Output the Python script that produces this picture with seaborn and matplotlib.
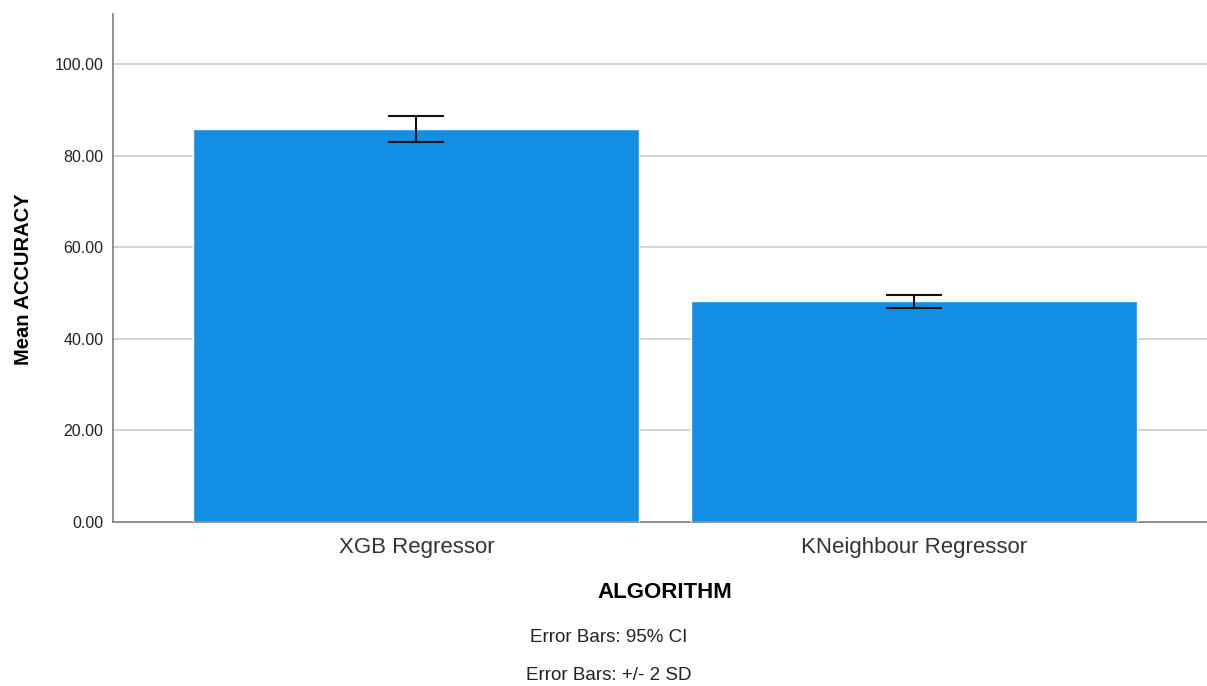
import matplotlib
matplotlib.use("Agg")
import matplotlib.pyplot as plt
import seaborn as sns
import pandas as pd
import numpy as np

algorithms = ["XGB Regressor", "KNeighbour Regressor"]
mean_accuracy = [85.8, 48.2]
err_low = [82.9, 46.6]
err_high = [88.6, 49.5]
y_ticks = [0, 20, 40, 60, 80, 100]
footnotes = ["Error Bars: 95% CI", "Error Bars: +/- 2 SD"]

sns.set_theme(style="white")
plt.rcParams['font.family'] = ['Liberation Sans', 'DejaVu Sans']

df = pd.DataFrame({"ALGORITHM": algorithms, "ACCURACY": mean_accuracy})

fig = plt.figure(figsize=(12.07, 6.86), dpi=100)
ax = fig.add_axes([113/1207, 1 - 521.5/686, 1 - 113/1207, (521.5 - 14)/686])

sns.barplot(data=df, x="ALGORITHM", y="ACCURACY", color="#128fe4",
            saturation=1, width=0.897, errorbar=None, ax=ax, zorder=3)

means = np.array(mean_accuracy)
yerr = np.vstack([means - np.array(err_low), np.array(err_high) - means])
ax.errorbar(range(len(algorithms)), means, yerr=yerr, fmt="none",
            ecolor="#111111", elinewidth=1.5, capsize=20, capthick=1.5, zorder=4)

ax.set_xlim(-0.61, 1.59)
ax.set_ylim(0, 111)
ax.set_yticks(y_ticks)
ax.set_yticklabels([f"{v:.2f}" for v in y_ticks], fontsize=11.5, color="#222222")
ax.tick_params(axis="x", labelsize=16, labelcolor="#333333", pad=11, length=0)
ax.tick_params(axis="y", length=0, pad=7)
ax.yaxis.grid(True, color="#cccccc", linewidth=1.2, zorder=0)
ax.set_axisbelow(True)

for s in ["top", "right"]:
    ax.spines[s].set_visible(False)
for s in ["left", "bottom"]:
    ax.spines[s].set_color("#888888")
    ax.spines[s].set_linewidth(1.3)

ax.set_xlabel("ALGORITHM", fontsize=16, fontweight="bold", color="black")
ax.set_ylabel("Mean ACCURACY", fontsize=14.5, fontweight="bold", color="black")
ax.xaxis.set_label_coords((665 - 113) / (1207 - 113), -(592 - 521.5) / 507.5)
ax.yaxis.set_label_coords(-(113 - 24) / (1207 - 113), (521.5 - 279) / 507.5)
ax.xaxis.label.set_va("center")
ax.yaxis.label.set_va("center")

fig.text(609 / 1207, 1 - 637 / 686, footnotes[0], ha="center", va="center", fontsize=13.5, color="#222222")
fig.text(609 / 1207, 1 - 676 / 686, footnotes[1], ha="center", va="center", fontsize=13.5, color="#222222")

fig.savefig("out.png", dpi=100)
